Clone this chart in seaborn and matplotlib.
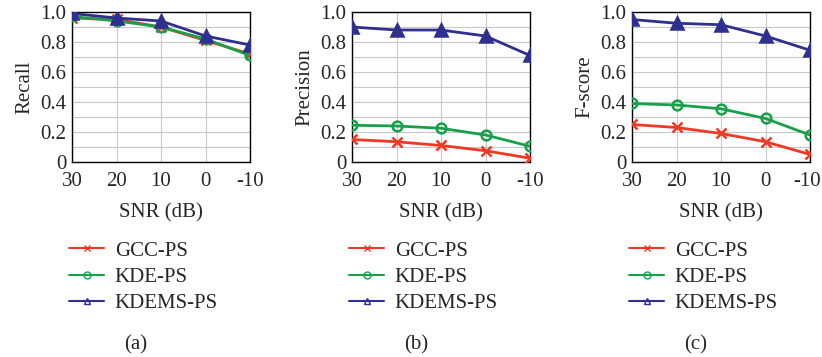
import numpy as np
import pandas as pd
import matplotlib
matplotlib.use("Agg")
import matplotlib.pyplot as plt
import matplotlib.transforms as mtransforms
from matplotlib.lines import Line2D
from matplotlib.ticker import MultipleLocator
import seaborn as sns

snr = [30, 20, 10, 0, -10]
methods = ["GCC-PS", "KDE-PS", "KDEMS-PS"]

recall_gcc = [0.96, 0.95, 0.90, 0.81, 0.72]
recall_kde = [0.97, 0.94, 0.90, 0.82, 0.71]
recall_kdems = [0.99, 0.96, 0.94, 0.84, 0.78]

precision_gcc = [0.15, 0.135, 0.11, 0.075, 0.025]
precision_kde = [0.245, 0.24, 0.225, 0.18, 0.105]
precision_kdems = [0.90, 0.88, 0.88, 0.84, 0.71]

fscore_gcc = [0.25, 0.23, 0.19, 0.135, 0.05]
fscore_kde = [0.39, 0.38, 0.355, 0.29, 0.18]
fscore_kdems = [0.95, 0.925, 0.915, 0.84, 0.745]

ylabels = ["Recall", "Precision", "F-score"]
sublabels = ["(a)", "(b)", "(c)"]
panels = [
    [recall_gcc, recall_kde, recall_kdems],
    [precision_gcc, precision_kde, precision_kdems],
    [fscore_gcc, fscore_kde, fscore_kdems],
]

colors = ["#EE3A24", "#17A04A", "#2E2F8E"]
markers = ["x", "o", "^"]

sns.set_theme(style="white")
plt.rcParams["font.family"] = ["Liberation Serif", "DejaVu Serif"]

W, H = 822, 357
fig = plt.figure(figsize=(W / 100, H / 100), dpi=100)

lefts = [72, 352, 632]
for i in range(3):
    l = lefts[i]
    ax = fig.add_axes([l / W, 1 - 162 / H, 178 / W, 150 / H])
    rows = []
    for m, vals in zip(methods, panels[i]):
        for s, v in zip(snr, vals):
            rows.append({"SNR": s, "val": v, "method": m})
    df = pd.DataFrame(rows)
    for j, m in enumerate(methods):
        sub = df[df["method"] == m]
        mfc = colors[j] if m == "KDEMS-PS" else "none"
        sns.lineplot(data=sub, x="SNR", y="val", ax=ax, color=colors[j],
                     marker=markers[j], markersize=8 if j == 2 else 7,
                     markerfacecolor=mfc, markeredgecolor=colors[j],
                     markeredgewidth=1.8, linewidth=2.0, legend=False,
                     zorder=3 + j)
    ax.set_xlim(30, -10)
    ax.set_ylim(0, 1.0)
    ax.set_xticks(snr)
    ax.set_xticklabels([str(s) for s in snr])
    ax.set_yticks([0, 0.2, 0.4, 0.6, 0.8, 1.0])
    ax.set_yticklabels(["0", "0.2", "0.4", "0.6", "0.8", "1.0"])
    ax.yaxis.set_minor_locator(MultipleLocator(0.1))
    ax.grid(True, which="both", color="#c8c8c8", linewidth=0.8)
    ax.set_axisbelow(True)
    ax.tick_params(axis="both", which="major", labelsize=15, direction="in",
                   length=3, color="black")
    ax.tick_params(axis="x", which="major", pad=7)
    ax.tick_params(axis="y", which="major", pad=4)
    ax.tick_params(axis="both", which="minor", length=0)
    for sp in ax.spines.values():
        sp.set_color("black")
        sp.set_linewidth(1.0)
    ax.set_xlabel("SNR (dB)", fontsize=15, labelpad=9)
    ax.set_ylabel(ylabels[i], fontsize=15, labelpad=4)

    if i == 2:
        lab = ax.get_xticklabels()[-1]
        lab.set_transform(lab.get_transform() +
                          mtransforms.ScaledTranslation(-3 / 100, 0, fig.dpi_scale_trans))

    handles = [Line2D([0], [0], color=colors[j], linewidth=1.5, marker=markers[j],
                      markersize=5, markerfacecolor="none",
                      markeredgecolor=colors[j], markeredgewidth=1.0)
               for j in range(3)]
    fig.legend(handles, methods, loc="upper left",
               bbox_to_anchor=((l - 3) / W, 1 - 241 / H),
               bbox_transform=fig.transFigure, frameon=False,
               fontsize=15, handlelength=1.7, handletextpad=0.5,
               labelspacing=0.32, borderpad=0, borderaxespad=0)
    fig.text((l + 64) / W, 1 - 345 / H, sublabels[i], fontsize=15,
             ha="center", va="center")

fig.savefig("out.png", dpi=100)
